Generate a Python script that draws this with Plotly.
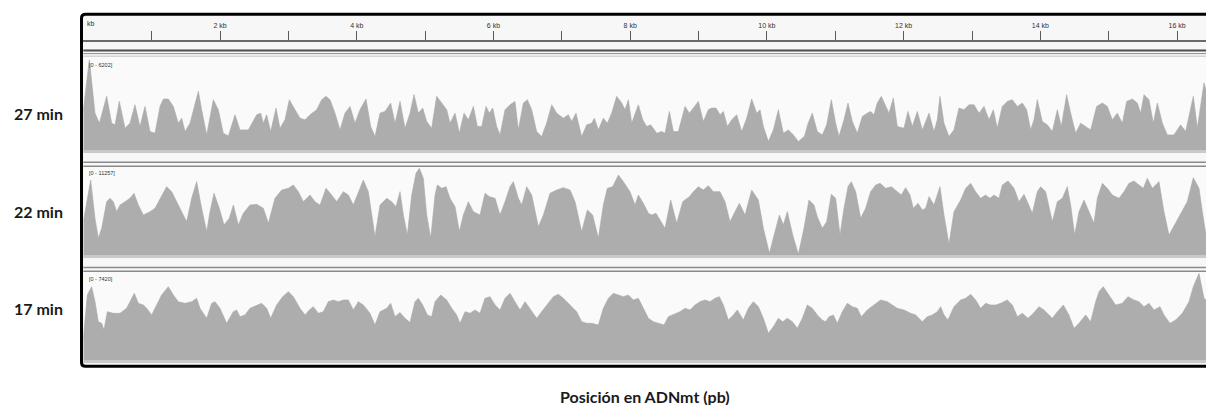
import plotly.graph_objects as go

# ---------------- data (mtDNA coverage, bp / reads) ----------------
track_labels = ["27 min", "22 min", "17 min"]
track_max = [6202, 11257, 7420]
tick_kb = [1, 2, 3, 4, 5, 6, 7, 8, 9, 10, 11, 12, 13, 14, 15, 16]
genome_end = 16525

pos27 = [0, 88, 171, 235, 342, 415, 464, 527, 610, 683, 756, 829, 903, 976, 1049, 1122, 1171, 1244, 1317, 1390,
         1439, 1488, 1561, 1634, 1683, 1731, 1805, 1902, 1975, 2048, 2122, 2219, 2292, 2414, 2536, 2595, 2634, 2682,
         2741, 2819, 2877, 2950, 3014, 3097, 3170, 3243, 3316, 3414, 3487, 3550, 3609, 3682, 3755, 3828, 3901, 3974,
         4047, 4135, 4204, 4267, 4340, 4413, 4496, 4560, 4633, 4706, 4779, 4838, 4901, 4965, 5023, 5096, 5169, 5243,
         5316, 5364, 5438, 5501, 5569, 5633, 5706, 5764, 5828, 5891, 5940, 5989, 6047, 6096, 6169, 6242, 6315, 6364,
         6437, 6496, 6559, 6632, 6705, 6778, 6852, 6925, 7022, 7095, 7144, 7207, 7290, 7364, 7437, 7476, 7534, 7607,
         7666, 7729, 7802, 7876, 7924, 7973, 8022, 8119, 8183, 8241, 8300, 8388, 8461, 8509, 8573, 8631, 8704, 8802,
         8865, 8924, 8997, 9070, 9143, 9192, 9255, 9314, 9363, 9421, 9485, 9558, 9631, 9704, 9777, 9850, 9899, 9948,
         10021, 10094, 10167, 10240, 10314, 10387, 10460, 10550, 10600, 10664, 10737, 10810, 10874, 10942, 11005,
         11054, 11127, 11186, 11249, 11322, 11395, 11468, 11517, 11566, 11615, 11673, 11737, 11785, 11849, 11907,
         12005, 12063, 12127, 12200, 12273, 12371, 12444, 12492, 12531, 12590, 12663, 12736, 12809, 12882, 12956,
         13029, 13102, 13175, 13248, 13312, 13370, 13443, 13516, 13590, 13663, 13736, 13799, 13858, 13906, 13955,
         14028, 14101, 14175, 14248, 14306, 14384, 14443, 14516, 14589, 14662, 14735, 14823, 14906, 14979, 15052,
         15125, 15199, 15262, 15345, 15418, 15467, 15516, 15589, 15652, 15711, 15784, 15857, 15954, 16052, 16125,
         16237, 16296, 16393, 16466, 16530]
cov27 = [2700, 6202, 2527, 1838, 3675, 1838, 1723, 3331, 1493, 1838, 3101, 1608, 2986, 1263, 1149, 2986, 3491, 3491,
         2986, 1838, 2182, 1263, 1838, 3216, 4020, 2756, 1034, 3446, 2756, 1149, 965, 2412, 1378, 1378, 2412, 2527,
         1838, 2412, 1263, 2871, 1493, 2067, 3446, 2756, 2182, 2067, 2412, 2756, 3446, 3675, 3446, 2527, 1378, 2527,
         2986, 1838, 2756, 3491, 1608, 919, 2527, 2642, 3216, 1838, 3331, 1493, 2527, 3790, 2527, 2871, 1952, 1493,
         3675, 3216, 2756, 1838, 2527, 1149, 2527, 2067, 2986, 1608, 1608, 2986, 2527, 2871, 1608, 1034, 2756, 3101,
         3331, 1378, 3216, 3446, 2756, 1263, 919, 1838, 3101, 2527, 2182, 2412, 1952, 2527, 919, 1723, 1838, 2182,
         1378, 2182, 1838, 2527, 3675, 3216, 2756, 3446, 1838, 3101, 2067, 1608, 1723, 1149, 1263, 1149, 2642, 1263,
         1263, 2986, 2527, 2871, 3331, 1952, 2756, 2871, 2871, 2412, 2642, 1608, 2067, 2412, 1263, 2182, 3491, 2527,
         2756, 1608, 574, 1378, 2756, 1149, 1378, 1034, 574, 950, 1800, 2527, 1263, 1034, 1723, 3446, 1838, 919, 2067,
         3216, 1952, 1149, 2297, 2527, 2642, 2412, 3216, 3675, 2986, 2527, 3560, 1608, 1493, 2642, 1608, 2642, 1378,
         2527, 1263, 2067, 3675, 1838, 919, 1378, 2871, 2756, 3101, 3101, 2527, 2986, 2067, 2756, 1493, 2986, 3331,
         3446, 2986, 3216, 2756, 1378, 2067, 3446, 1952, 1723, 1263, 2756, 1608, 3790, 2527, 1149, 1838, 1608, 1378,
         2986, 3216, 2986, 2067, 2527, 1838, 3331, 3491, 3216, 2527, 3790, 3446, 1838, 3216, 1838, 1034, 1034, 1723,
         1263, 3675, 1493, 4594, 3446, 2756]

pos22 = [0, 108, 171, 220, 269, 342, 390, 439, 488, 537, 610, 683, 742, 805, 878, 976, 1049, 1122, 1219, 1293, 1366,
         1439, 1512, 1585, 1658, 1731, 1805, 1853, 1912, 1990, 2058, 2136, 2195, 2268, 2341, 2438, 2536, 2634, 2707,
         2804, 2902, 2999, 3072, 3146, 3219, 3316, 3389, 3463, 3550, 3633, 3706, 3804, 3877, 3950, 4023, 4096, 4169,
         4267, 4340, 4438, 4511, 4574, 4633, 4682, 4740, 4804, 4867, 4916, 4974, 5023, 5082, 5145, 5179, 5243, 5306,
         5364, 5438, 5501, 5559, 5633, 5706, 5803, 5876, 5940, 6023, 6096, 6169, 6242, 6291, 6364, 6413, 6486, 6559,
         6657, 6730, 6827, 6925, 7022, 7120, 7193, 7290, 7373, 7451, 7534, 7607, 7666, 7744, 7827, 7900, 7997, 8071,
         8119, 8192, 8266, 8314, 8378, 8436, 8509, 8592, 8680, 8768, 8865, 8924, 8997, 9070, 9143, 9216, 9314, 9387,
         9460, 9533, 9597, 9680, 9777, 9875, 9948, 10036, 10118, 10182, 10240, 10299, 10377, 10460, 10542, 10615,
         10688, 10737, 10810, 10874, 10942, 11005, 11069, 11127, 11186, 11234, 11298, 11371, 11444, 11517, 11590,
         11654, 11737, 11820, 11907, 11966, 12029, 12093, 12141, 12210, 12273, 12322, 12371, 12444, 12531, 12590,
         12663, 12736, 12834, 12907, 12980, 13053, 13126, 13199, 13263, 13321, 13394, 13443, 13526, 13614, 13687,
         13760, 13809, 13882, 13955, 14004, 14077, 14175, 14248, 14321, 14394, 14443, 14501, 14565, 14638, 14711,
         14784, 14833, 14906, 14979, 15052, 15150, 15223, 15296, 15369, 15442, 15506, 15564, 15637, 15735, 15808,
         15881, 15979, 16076, 16149, 16237, 16320, 16369, 16418, 16466, 16530]
cov22 = [4300, 9704, 4744, 2157, 3450, 6901, 7332, 6901, 5607, 6470, 6901, 7332, 7979, 6470, 5176, 5607, 6038, 7332,
         8842, 8195, 6901, 5607, 4313, 7332, 9489, 6038, 3019, 5607, 7979, 6038, 3882, 4744, 6470, 3882, 5391, 6470,
         6556, 6038, 4097, 7332, 8410, 8626, 9057, 8195, 6901, 7763, 6901, 6470, 8626, 7763, 6901, 8195, 7763, 6470,
         8195, 9704, 8195, 2372, 6470, 7332, 6901, 6254, 8195, 5176, 2588, 7763, 10567, 11214, 9920, 5176, 2157, 7763,
         9057, 8626, 8842, 7332, 6254, 3019, 5176, 6901, 5607, 5176, 7979, 7548, 7332, 5176, 6901, 8842, 9489, 7332,
         6470, 8842, 7763, 3666, 5176, 7979, 8410, 8712, 8410, 6901, 3019, 5823, 5176, 2157, 6470, 8626, 8842, 10351,
         9489, 8195, 6470, 7763, 6685, 5391, 5176, 5391, 4529, 3450, 7116, 4097, 6901, 7548, 8195, 8842, 8410, 8971,
         8195, 8195, 6901, 4313, 5607, 6685, 5176, 8410, 7116, 3450, 216, 3019, 5176, 3882, 5607, 2588, 86, 3450, 7116,
         6470, 4960, 3450, 4313, 7850, 7332, 2588, 6038, 8842, 9489, 8195, 4744, 6038, 8195, 9057, 9273, 8626, 8842,
         8195, 7763, 8712, 7763, 6038, 6685, 5823, 6038, 7548, 6470, 8842, 5176, 1380, 5607, 7116, 8626, 9273, 8195,
         7332, 7763, 7332, 7763, 7332, 9057, 9575, 8626, 6901, 7850, 6901, 5391, 8195, 8842, 8195, 4313, 6901, 7332,
         8842, 6470, 2588, 5607, 7116, 5607, 4097, 7332, 9273, 8626, 7763, 7332, 8195, 9273, 9575, 9057, 8626, 9920,
         8626, 9489, 5607, 2588, 4097, 5607, 6901, 10006, 8626, 5607, 2803, 4529, 3450]

pos17 = [0, 59, 122, 171, 220, 269, 303, 352, 439, 537, 634, 707, 746, 805, 878, 927, 1000, 1073, 1146, 1244, 1317,
         1390, 1488, 1585, 1658, 1707, 1805, 1878, 1926, 1999, 2097, 2194, 2243, 2292, 2365, 2438, 2536, 2609, 2682,
         2741, 2828, 2916, 2999, 3072, 3170, 3243, 3306, 3365, 3438, 3511, 3584, 3657, 3731, 3804, 3877, 3950, 4023,
         4096, 4194, 4267, 4340, 4438, 4496, 4560, 4633, 4706, 4779, 4852, 4901, 4965, 5033, 5096, 5145, 5228, 5316,
         5389, 5462, 5511, 5584, 5657, 5730, 5803, 5876, 5950, 6023, 6096, 6169, 6242, 6315, 6388, 6462, 6535, 6632,
         6705, 6778, 6876, 6949, 7022, 7120, 7217, 7290, 7364, 7437, 7534, 7607, 7681, 7754, 7827, 7900, 7973, 8046,
         8119, 8192, 8266, 8339, 8412, 8495, 8558, 8656, 8729, 8802, 8875, 8948, 9021, 9095, 9168, 9241, 9304, 9363,
         9436, 9509, 9567, 9655, 9728, 9802, 9875, 9948, 10021, 10094, 10167, 10231, 10299, 10372, 10445, 10518,
         10591, 10664, 10737, 10810, 10859, 10908, 10971, 11030, 11103, 11176, 11249, 11322, 11381, 11468, 11566,
         11663, 11761, 11834, 11907, 12005, 12102, 12175, 12273, 12346, 12419, 12492, 12541, 12590, 12648, 12736,
         12834, 12907, 12980, 13053, 13126, 13199, 13273, 13346, 13419, 13516, 13590, 13663, 13736, 13819, 13897,
         13980, 14053, 14175, 14248, 14336, 14418, 14492, 14565, 14662, 14735, 14809, 14857, 14920, 15004, 15101,
         15199, 15281, 15369, 15442, 15516, 15589, 15662, 15750, 15808, 15896, 15979, 16076, 16174, 16237, 16320,
         16393, 16452, 16515]
cov17 = [1850, 5544, 6255, 4975, 3269, 3127, 2559, 4122, 3980, 3980, 4407, 5260, 5686, 4833, 4691, 4407, 3838, 4691,
         5544, 6255, 5544, 4975, 4833, 4975, 5260, 4407, 3554, 4833, 4975, 4407, 3127, 4122, 4265, 3696, 3838, 4407,
         4691, 4833, 4407, 3554, 4691, 5402, 5828, 5402, 4407, 3838, 4265, 4549, 3980, 4122, 4975, 5117, 4975, 5117,
         5117, 4265, 4975, 4691, 3980, 2985, 4122, 4407, 4833, 3696, 4050, 3554, 3200, 4975, 5260, 4691, 3838, 3696,
         4975, 5544, 5117, 4407, 3838, 3127, 4122, 3980, 4265, 3980, 5260, 5402, 4691, 4265, 5260, 5686, 4975, 4265,
         4975, 4407, 3554, 4122, 4691, 5402, 5601, 5260, 4691, 4122, 3269, 3127, 3127, 2985, 4407, 5260, 5686, 5544,
         5402, 5544, 5117, 5260, 4407, 3554, 3269, 3127, 2985, 3696, 3980, 4122, 4407, 4265, 4691, 4975, 5117, 4975,
         5260, 5402, 4691, 3412, 3838, 4265, 3412, 4407, 4975, 4549, 3554, 2274, 2843, 3554, 3269, 3554, 3269, 2701,
         3554, 4691, 4407, 3838, 3412, 3269, 3696, 3838, 3127, 4122, 4833, 4549, 4407, 3696, 4265, 4691, 5117, 4975,
         4691, 4407, 4265, 3980, 3838, 3269, 3696, 3838, 4122, 4549, 3838, 3412, 4549, 5117, 5260, 5601, 5117, 4407,
         4833, 4691, 4691, 4833, 5117, 4691, 3696, 3980, 3554, 3980, 4549, 4265, 3554, 4122, 4691, 3838, 2701, 3127,
         3838, 3269, 4975, 5828, 6255, 5544, 4691, 4833, 5402, 5117, 4975, 4549, 4833, 4265, 4549, 3838, 3127, 3412,
         3980, 4975, 6255, 7392, 5260, 4975, 4407]

# ---------------- geometry helpers (page pixels -> paper) ----------------
PAGE_OFF = 8                 # browser default body margin
W, H = 1214 - PAGE_OFF, 405 - PAGE_OFF


def px(x):
    return (x - PAGE_OFF) / W


def py(y):
    return 1 - (y - PAGE_OFF) / H


X0, X1 = 83.3, 1213          # data area (0 bp .. genome_end)
# (baseline px, top-of-range px) per track
track_px = [(150, 59.5), (255, 168), (360, 273)]
label_y = [113.5, 211.5, 308.5]
range_label_y = [65, 173, 279]

FILL = "#adadad"

fig = go.Figure()
series = [(pos27, cov27), (pos22, cov22), (pos17, cov17)]
for i, (p, c) in enumerate(series):
    yname = "y" if i == 0 else f"y{i + 1}"
    fig.add_trace(go.Scatter(
        x=p, y=c, xaxis="x", yaxis=yname, mode="lines",
        line=dict(color="#a9a9a9", width=0.6), fill="tozeroy", fillcolor=FILL,
        hoverinfo="skip", showlegend=False))

shapes = []
# panel background
shapes.append(dict(type="rect", xref="paper", yref="paper", x0=px(82), x1=px(1216), y0=py(366), y1=py(14),
                   fillcolor="#f7f7f7", line=dict(width=0), layer="below"))
# track backgrounds
for (base, top) in track_px:
    shapes.append(dict(type="rect", xref="paper", yref="paper", x0=px(X0), x1=px(X1), y0=py(base),
                       y1=py(top - 3), fillcolor="#fafafa", line=dict(width=0), layer="below"))
    # baseline band
    shapes.append(dict(type="rect", xref="paper", yref="paper", x0=px(X0), x1=px(X1), y0=py(base + 3),
                       y1=py(base), fillcolor="#c9c9c9", line=dict(width=0), layer="below"))

# separator lines
sep = [(50.6, "#4d4d4d", 2), (53.6, "#8a8a8a", 1), (56.2, "#c4c4c4", 1),
       (162.3, "#8a8a8a", 1.5), (166.2, "#8a8a8a", 1.5),
       (267.6, "#8a8a8a", 1.5), (271.2, "#8a8a8a", 1.5)]
for (yy, col, wd) in sep:
    shapes.append(dict(type="line", xref="paper", yref="paper", x0=px(X0), x1=px(1214), y0=py(yy), y1=py(yy),
                       line=dict(color=col, width=wd)))
# right edge line
shapes.append(dict(type="line", xref="paper", yref="paper", x0=px(1212.5), x1=px(1212.5), y0=py(363),
                   y1=py(41), line=dict(color="#b5b5b5", width=1)))

# outer rounded black frame
L, T, B, R, r = 81.5, 14.3, 366.3, 1218, 4
path = (f"M {px(R)},{py(T)} L {px(L + r)},{py(T)} Q {px(L)},{py(T)} {px(L)},{py(T + r)} "
        f"L {px(L)},{py(B - r)} Q {px(L)},{py(B)} {px(L + r)},{py(B)} L {px(R)},{py(B)}")
shapes.append(dict(type="path", xref="paper", yref="paper", path=path, line=dict(color="#000000", width=3)))

annotations = []
for i, lab in enumerate(track_labels):
    annotations.append(dict(text=f"<b>{lab}</b>", xref="paper", yref="paper", x=px(38.5), y=py(label_y[i]),
                            xanchor="center", yanchor="middle", showarrow=False,
                            font=dict(family="Lato", size=16, color="#1a1a1a")))
    annotations.append(dict(text=f"[0 - {track_max[i]}]", xref="paper", yref="paper", x=px(86.5),
                            y=py(range_label_y[i]), xanchor="left", yanchor="middle", showarrow=False,
                            font=dict(family="Liberation Sans", size=5.5, color="#333333")))
annotations.append(dict(text="kb", xref="paper", yref="paper", x=px(84.5), y=py(23.5), xanchor="left",
                        yanchor="middle", showarrow=False,
                        font=dict(family="Liberation Sans", size=7, color="#333333")))
annotations.append(dict(text="<b>Posición en ADNmt (pb)</b>", xref="paper", yref="paper", x=px(645), y=py(396),
                        xanchor="center", yanchor="middle", showarrow=False,
                        font=dict(family="Lato", size=16, color="#1a1a1a")))

ticktext = [f"{k} kb" if k % 2 == 0 else "" for k in tick_kb]

layout = dict(
    width=W, height=H, margin=dict(l=0, r=0, t=0, b=0),
    paper_bgcolor="#ffffff", plot_bgcolor="rgba(0,0,0,0)",
    xaxis=dict(domain=[px(X0), px(X1)], range=[0, genome_end], side="top", anchor="free",
               position=py(41), tickvals=[k * 1000 for k in tick_kb], ticktext=ticktext,
               ticks="outside", ticklen=9, tickwidth=1.2, tickcolor="#5a5a5a",
               showline=True, linecolor="#6a6a6a", linewidth=1.5, showgrid=False, zeroline=False,
               tickfont=dict(family="Liberation Sans", size=7, color="#333333"), fixedrange=True),
    shapes=shapes, annotations=annotations,
)
for i, (base, top) in enumerate(track_px):
    key = "yaxis" if i == 0 else f"yaxis{i + 1}"
    layout[key] = dict(domain=[py(base), py(top)], range=[0, track_max[i]], visible=False,
                       anchor="x", fixedrange=True)

fig.update_layout(**layout)
fig.write_html("out.html")
